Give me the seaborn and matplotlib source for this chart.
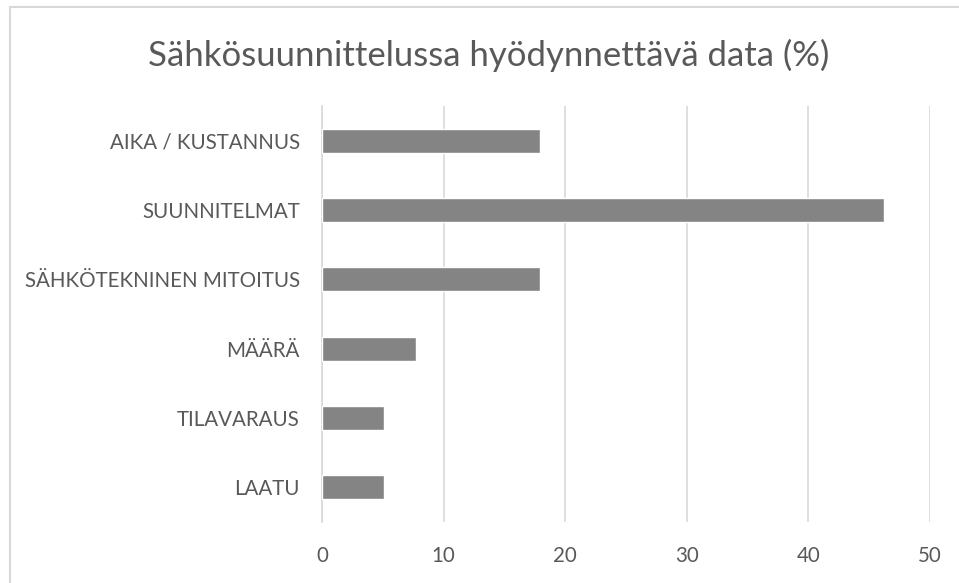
import matplotlib
matplotlib.use("Agg")
import matplotlib.pyplot as plt
import seaborn as sb
import pandas as pd
from matplotlib.patches import Rectangle

# Data (percent of respondents)
categories = ["AIKA / KUSTANNUS", "SUUNNITELMAT", "SÄHKÖTEKNINEN MITOITUS",
              "MÄÄRÄ", "TILAVARAUS", "LAATU"]
values = [17.9, 46.2, 17.9, 7.7, 5.1, 5.1]
x_ticks = [0, 10, 20, 30, 40, 50]

title = "Sähkösuunnittelussa hyödynnettävä data (%)"

text_color = "#595959"
grid_color = "#d9d9d9"
bar_color = "#848484"

sb.set_style("white")
plt.rcParams["font.family"] = ["Lato", "DejaVu Sans"]

df = pd.DataFrame({"category": categories, "value": values})

fig = plt.figure(figsize=(9.59, 5.83), dpi=100)
ax = fig.add_axes([322 / 959, 1 - 522 / 583, (930 - 322) / 959, (522 - 106) / 583])

sb.barplot(data=df, x="value", y="category", order=categories, color=bar_color,
           width=0.35, saturation=1, ax=ax, zorder=3)

ax.set_xlim(0, 50)
ax.set_ylim(5.5, -0.5)
ax.set_xticks(x_ticks)
ax.set_xticklabels([str(t) for t in x_ticks])
ax.xaxis.grid(True, color=grid_color, linewidth=1.2, zorder=0)
ax.set_axisbelow(True)
for side in ["top", "right", "bottom"]:
    ax.spines[side].set_visible(False)
ax.spines["left"].set_color(grid_color)
ax.spines["left"].set_linewidth(1.2)
ax.tick_params(axis="both", length=0, labelsize=14.8, labelcolor=text_color)
ax.tick_params(axis="y", pad=16)
ax.tick_params(axis="x", pad=17)
ax.set_xlabel("")
ax.set_ylabel("")

fig.text(0.51, 1 - 55 / 583, title, ha="center", va="center", fontsize=25, color=text_color)

# light frame around the chart area
fig.patches.append(Rectangle((10 / 959, -0.01), 1.0, 1 - 7 / 583 + 0.01, transform=fig.transFigure,
                             fill=False, edgecolor=grid_color, linewidth=1.5))

fig.savefig("out.png", dpi=100)
